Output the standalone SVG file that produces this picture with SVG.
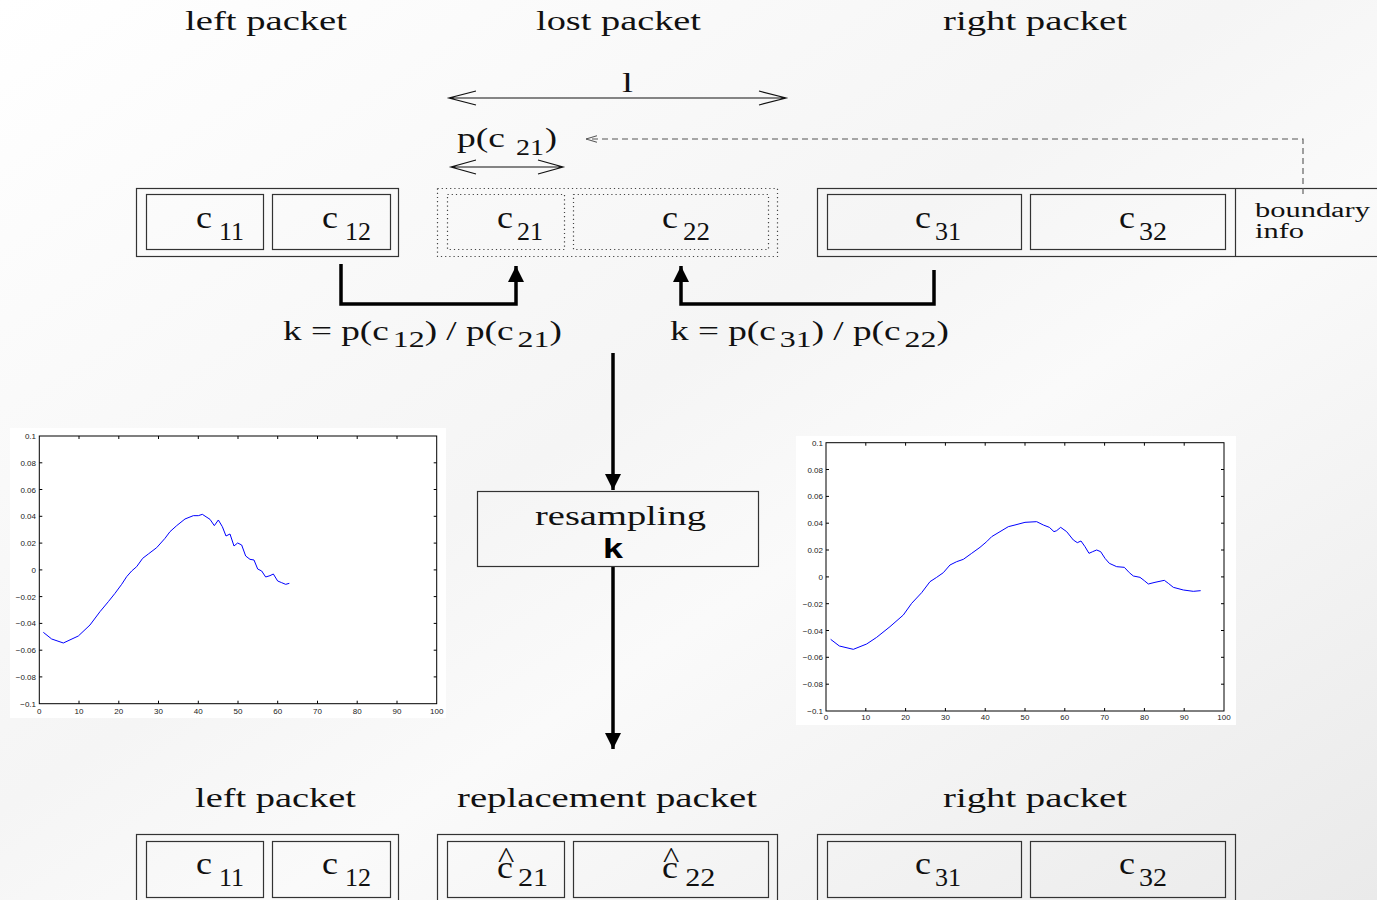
<svg xmlns="http://www.w3.org/2000/svg" width="1377" height="900" viewBox="0 0 1377 900">
<defs>
<linearGradient id="bg" x1="0" y1="0" x2="1" y2="1">
<stop offset="0" stop-color="#ffffff"/>
<stop offset="0.45" stop-color="#f5f5f5"/>
<stop offset="0.6" stop-color="#fafafa"/>
<stop offset="1" stop-color="#eaeaea"/>
</linearGradient>
<marker id="ah" viewBox="0 0 10 10" refX="10" refY="5" markerWidth="16" markerHeight="16" markerUnits="userSpaceOnUse" orient="auto">
<path d="M0,0 L10,5 L0,10 Z" fill="#000"/>
</marker>
<marker id="ahs" viewBox="0 0 10 10" refX="10" refY="5" markerWidth="11" markerHeight="11" markerUnits="userSpaceOnUse" orient="auto">
<path d="M0,2 L10,5 L0,8" fill="none" stroke="#555" stroke-width="1"/>
</marker>
<style>
.s{font-family:"Liberation Serif","Times New Roman",serif;fill:#111;}
.t{font-size:28px;}
.c{font-size:31px;}
.sub{font-size:26px;}
.fsub{font-size:24px;}
.box{fill:none;stroke:#333;stroke-width:1.2;}
.dot{fill:none;stroke:#444;stroke-width:1.2;stroke-dasharray:1.2 3;}
.thick{fill:none;stroke:#000;stroke-width:3.5;}
.dim{fill:none;stroke:#111;stroke-width:1.2;}
.ax{font-family:"Liberation Sans",Arial,sans-serif;font-size:8px;fill:#222;}
.axl{fill:none;stroke:#000;stroke-width:1;}
.curve{fill:none;stroke:#0000ff;stroke-width:1;vector-effect:non-scaling-stroke;stroke-linejoin:round;}
</style>
</defs>
<rect x="0" y="0" width="1377" height="900" fill="url(#bg)"/>

<g id="titles-top" class="s t">
<text x="185" y="30" textLength="162" lengthAdjust="spacingAndGlyphs">left packet</text>
<text x="536" y="30" textLength="165" lengthAdjust="spacingAndGlyphs">lost packet</text>
<text x="943" y="30" textLength="184" lengthAdjust="spacingAndGlyphs">right packet</text>
</g>

<g id="dimension-l">
<path class="dim" d="M449,98 H786 M476,91 L449,98 L476,105 M759,91 L786,98 L759,105"/>
<text class="s t" x="622" y="92" textLength="11" lengthAdjust="spacingAndGlyphs">l</text>
</g>

<g id="dimension-p">
<path class="dim" d="M451,167 H563 M476,160 L451,167 L476,174 M538,160 L563,167 L538,174"/>
<text class="s t" x="457" y="147" textLength="48" lengthAdjust="spacingAndGlyphs">p(c</text>
<text class="s fsub" x="516" y="155" textLength="28" lengthAdjust="spacingAndGlyphs">21</text>
<text class="s t" x="545" y="147" textLength="12" lengthAdjust="spacingAndGlyphs">)</text>
</g>

<g id="left-packet-top">
<rect class="box" x="136.5" y="188.5" width="262" height="68"/>
<rect class="box" x="146.5" y="194.5" width="117" height="55"/>
<rect class="box" x="272.5" y="194.5" width="118" height="55"/>
<text class="s c" x="196" y="228" textLength="16" lengthAdjust="spacingAndGlyphs">c</text>
<text class="s sub" x="219" y="240" textLength="25" lengthAdjust="spacingAndGlyphs">11</text>
<text class="s c" x="322" y="228" textLength="16" lengthAdjust="spacingAndGlyphs">c</text>
<text class="s sub" x="345" y="240" textLength="26" lengthAdjust="spacingAndGlyphs">12</text>
</g>

<g id="lost-packet">
<rect class="dot" x="437.5" y="188.5" width="340" height="68"/>
<rect class="dot" x="447.5" y="194.5" width="117" height="55"/>
<rect class="dot" x="573.5" y="194.5" width="195" height="55"/>
<text class="s c" x="497" y="228" textLength="16" lengthAdjust="spacingAndGlyphs">c</text>
<text class="s sub" x="517" y="240" textLength="26" lengthAdjust="spacingAndGlyphs">21</text>
<text class="s c" x="662" y="228" textLength="16" lengthAdjust="spacingAndGlyphs">c</text>
<text class="s sub" x="683" y="240" textLength="27" lengthAdjust="spacingAndGlyphs">22</text>
</g>

<g id="right-packet-top">
<rect class="box" x="817.5" y="188.5" width="570" height="68"/>
<line class="box" x1="1235.5" y1="188.5" x2="1235.5" y2="256.5"/>
<rect class="box" x="827.5" y="194.5" width="194" height="55"/>
<rect class="box" x="1030.5" y="194.5" width="195" height="55"/>
<text class="s c" x="915" y="228" textLength="16" lengthAdjust="spacingAndGlyphs">c</text>
<text class="s sub" x="935" y="240" textLength="26" lengthAdjust="spacingAndGlyphs">31</text>
<text class="s c" x="1119" y="228" textLength="16" lengthAdjust="spacingAndGlyphs">c</text>
<text class="s sub" x="1139" y="240" textLength="28" lengthAdjust="spacingAndGlyphs">32</text>
<text class="s" style="font-size:20px" x="1255" y="217" textLength="115" lengthAdjust="spacingAndGlyphs">boundary</text>
<text class="s" style="font-size:20px" x="1255" y="238" textLength="49" lengthAdjust="spacingAndGlyphs">info</text>
</g>

<g id="connectors">
<path d="M1303,194 V139 H586" fill="none" stroke="#555" stroke-width="1.1" stroke-dasharray="6 4" marker-end="url(#ahs)"/>
<path class="thick" d="M341,264 V304 H516 V266" marker-end="url(#ah)"/>
<path class="thick" d="M934,270 V304 H681 V266" marker-end="url(#ah)"/>
<path class="thick" d="M613,353 V490" marker-end="url(#ah)"/>
<path class="thick" d="M613,566 V749" marker-end="url(#ah)"/>
</g>

<g id="formula-left">
<text class="s t" transform="translate(283 340) scale(1.33 1)">k = p(c<tspan class="fsub" dx="3" dy="7">12</tspan><tspan dy="-7">) / p(c</tspan><tspan class="fsub" dx="3" dy="7">21</tspan><tspan dy="-7">)</tspan></text>
</g>
<g id="formula-right">
<text class="s t" transform="translate(670 340) scale(1.33 1)">k = p(c<tspan class="fsub" dx="3" dy="7">31</tspan><tspan dy="-7">) / p(c</tspan><tspan class="fsub" dx="3" dy="7">22</tspan><tspan dy="-7">)</tspan></text>
</g>

<g id="resampling">
<rect x="477.5" y="491.5" width="281" height="75" fill="none" stroke="#333" stroke-width="1.2"/>
<text class="s t" x="535" y="525" textLength="171" lengthAdjust="spacingAndGlyphs">resampling</text>
<text x="603" y="558" textLength="20" lengthAdjust="spacingAndGlyphs" style="font-family:'Liberation Sans',Arial,sans-serif;font-weight:bold;font-size:28px;fill:#000">k</text>
</g>

<g id="plot-left">
<rect x="10" y="428" width="436" height="290" fill="#fff"/>
<rect class="axl" x="39.3" y="436" width="397.4" height="267.7"/>
<path class="axl" d="M79,703.7v-3M118.8,703.7v-3M158.5,703.7v-3M198.3,703.7v-3M238,703.7v-3M277.7,703.7v-3M317.5,703.7v-3M357.2,703.7v-3M397,703.7v-3M79,436v3M118.8,436v3M158.5,436v3M198.3,436v3M238,436v3M277.7,436v3M317.5,436v3M357.2,436v3M397,436v3M39.3,462.8h3M39.3,489.5h3M39.3,516.3h3M39.3,543.1h3M39.3,569.9h3M39.3,596.6h3M39.3,623.4h3M39.3,650.2h3M39.3,676.9h3M436.7,462.8h-3M436.7,489.5h-3M436.7,516.3h-3M436.7,543.1h-3M436.7,569.9h-3M436.7,596.6h-3M436.7,623.4h-3M436.7,650.2h-3M436.7,676.9h-3"/>
<g class="ax" text-anchor="end">
<text x="36" y="439">0.1</text><text x="36" y="465.8">0.08</text><text x="36" y="492.5">0.06</text><text x="36" y="519.3">0.04</text><text x="36" y="546.1">0.02</text><text x="36" y="572.9">0</text><text x="36" y="599.6">−0.02</text><text x="36" y="626.4">−0.04</text><text x="36" y="653.2">−0.06</text><text x="36" y="679.9">−0.08</text><text x="36" y="706.7">−0.1</text>
</g>
<g class="ax" text-anchor="middle">
<text x="39.3" y="714">0</text><text x="79" y="714">10</text><text x="118.8" y="714">20</text><text x="158.5" y="714">30</text><text x="198.3" y="714">40</text><text x="238" y="714">50</text><text x="277.7" y="714">60</text><text x="317.5" y="714">70</text><text x="357.2" y="714">80</text><text x="397" y="714">90</text><text x="436.7" y="714">100</text>
</g>
<g transform="translate(0 425) scale(0.33333)">
<polyline class="curve" points="130,622 155,642 190,654 235,633 270,600 300,560 325,530 345,505 365,478 380,455 395,438 410,425 428,400 445,387 470,368 495,340 510,320 530,302 555,282 580,272 595,272 607,268 630,283 643,302 655,285 667,305 678,333 690,327 702,363 713,354 725,360 737,393 750,403 762,405 773,432 785,438 797,456 810,452 820,447 833,468 845,473 857,478 868,475"/>
</g>
</g>

<g id="plot-right">
<rect x="796" y="436" width="440" height="289" fill="#fff"/>
<rect class="axl" x="826" y="442.7" width="398" height="268.3"/>
<path class="axl" d="M865.8,711v-3M905.6,711v-3M945.4,711v-3M985.2,711v-3M1025,711v-3M1064.8,711v-3M1104.6,711v-3M1144.4,711v-3M1184.2,711v-3M865.8,442.7v3M905.6,442.7v3M945.4,442.7v3M985.2,442.7v3M1025,442.7v3M1064.8,442.7v3M1104.6,442.7v3M1144.4,442.7v3M1184.2,442.7v3M826,469.5h3M826,496.4h3M826,523.2h3M826,550h3M826,576.9h3M826,603.7h3M826,630.5h3M826,657.3h3M826,684.2h3M1224,469.5h-3M1224,496.4h-3M1224,523.2h-3M1224,550h-3M1224,576.9h-3M1224,603.7h-3M1224,630.5h-3M1224,657.3h-3M1224,684.2h-3"/>
<g class="ax" text-anchor="end">
<text x="823" y="445.7">0.1</text><text x="823" y="472.5">0.08</text><text x="823" y="499.4">0.06</text><text x="823" y="526.2">0.04</text><text x="823" y="553">0.02</text><text x="823" y="579.9">0</text><text x="823" y="606.7">−0.02</text><text x="823" y="633.5">−0.04</text><text x="823" y="660.3">−0.06</text><text x="823" y="687.2">−0.08</text><text x="823" y="714">−0.1</text>
</g>
<g class="ax" text-anchor="middle">
<text x="826" y="720">0</text><text x="865.8" y="720">10</text><text x="905.6" y="720">20</text><text x="945.4" y="720">30</text><text x="985.2" y="720">40</text><text x="1025" y="720">50</text><text x="1064.8" y="720">60</text><text x="1104.6" y="720">70</text><text x="1144.4" y="720">80</text><text x="1184.2" y="720">90</text><text x="1224" y="720">100</text>
</g>
<g transform="translate(790 430) scale(0.33333)">
<polyline class="curve" points="122,628 148,648 190,658 230,642 260,622 300,590 340,555 365,520 395,488 420,455 440,442 460,428 480,405 500,395 520,388 545,370 570,352 590,335 605,320 630,305 655,290 675,285 705,277 740,275 760,285 778,292 792,305 800,302 812,292 830,305 850,330 862,338 873,333 885,350 897,370 908,365 920,360 932,365 945,385 958,400 980,410 1003,412 1018,428 1030,438 1050,442 1063,452 1075,462 1095,457 1123,451 1135,460 1150,472 1180,480 1210,484 1232,482"/>
</g>
</g>

<g id="titles-bottom" class="s t">
<text x="195" y="807" textLength="161" lengthAdjust="spacingAndGlyphs">left packet</text>
<text x="457" y="807" textLength="300" lengthAdjust="spacingAndGlyphs">replacement packet</text>
<text x="943" y="807" textLength="184" lengthAdjust="spacingAndGlyphs">right packet</text>
</g>

<g id="left-packet-bottom">
<rect class="box" x="136.5" y="834.5" width="262" height="80"/>
<rect class="box" x="146.5" y="841.5" width="117" height="56"/>
<rect class="box" x="272.5" y="841.5" width="118" height="56"/>
<text class="s c" x="196" y="874" textLength="16" lengthAdjust="spacingAndGlyphs">c</text>
<text class="s sub" x="219" y="886" textLength="25" lengthAdjust="spacingAndGlyphs">11</text>
<text class="s c" x="322" y="874" textLength="16" lengthAdjust="spacingAndGlyphs">c</text>
<text class="s sub" x="345" y="886" textLength="26" lengthAdjust="spacingAndGlyphs">12</text>
</g>

<g id="replacement-packet">
<rect class="box" x="437.5" y="834.5" width="340" height="80"/>
<rect class="box" x="447.5" y="841.5" width="117" height="56"/>
<rect class="box" x="573.5" y="841.5" width="195" height="56"/>
<text class="s" transform="translate(497 878) scale(1.16 1)"><tspan style="font-size:31px">c</tspan><tspan style="font-size:30px" dx="-12.8" dy="-10.5">^</tspan><tspan class="sub" dx="3" dy="18.5">21</tspan></text>
<text class="s" transform="translate(662 878) scale(1.16 1)"><tspan style="font-size:31px">c</tspan><tspan style="font-size:30px" dx="-12.8" dy="-10.5">^</tspan><tspan class="sub" dx="5" dy="18.5">22</tspan></text>
</g>

<g id="right-packet-bottom">
<rect class="box" x="817.5" y="834.5" width="418" height="80"/>
<rect class="box" x="827.5" y="841.5" width="194" height="56"/>
<rect class="box" x="1030.5" y="841.5" width="195" height="56"/>
<text class="s c" x="915" y="874" textLength="16" lengthAdjust="spacingAndGlyphs">c</text>
<text class="s sub" x="935" y="886" textLength="26" lengthAdjust="spacingAndGlyphs">31</text>
<text class="s c" x="1119" y="874" textLength="16" lengthAdjust="spacingAndGlyphs">c</text>
<text class="s sub" x="1139" y="886" textLength="28" lengthAdjust="spacingAndGlyphs">32</text>
</g>
</svg>
